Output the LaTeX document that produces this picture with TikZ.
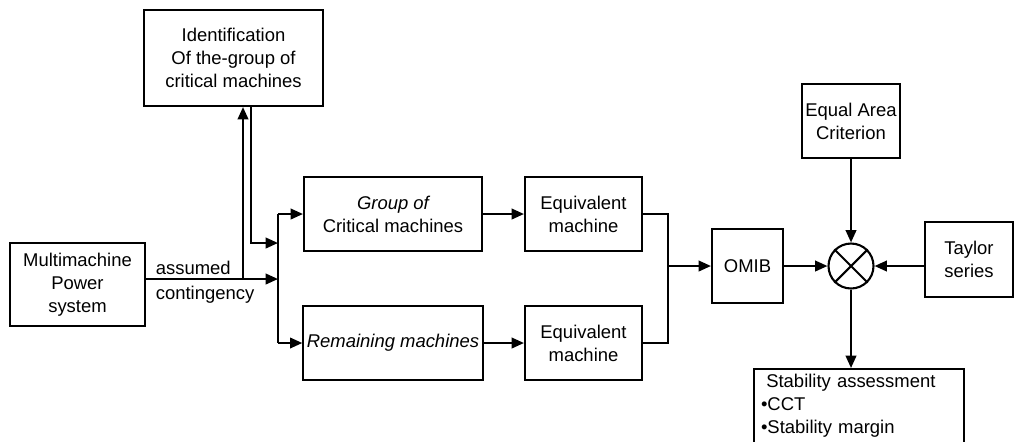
\documentclass[tikz,border=0pt]{standalone}
\usepackage{fontspec}
\setmainfont{Liberation Sans}
\usetikzlibrary{arrows.meta}
\begin{document}
\begin{tikzpicture}[x=0.02cm,y=-0.02cm,line width=1.2pt,
    box/.style={draw,align=center,inner sep=2pt,font=\fontsize{10.5}{13}\selectfont},
    lbl/.style={inner sep=1pt,font=\fontsize{10.5}{13}\selectfont},
    arr/.style={-{Triangle[length=7pt,width=6pt]}}]
    \useasboundingbox (0,0) rectangle (1016,441);
    \node[box,minimum width=2.7cm,minimum height=1.66cm] (sys) at (77.5,284.5) {Multimachine\\Power\\system};
    \node[box,minimum width=3.58cm,minimum height=1.92cm] (ident) at (233.5,58) {Identification\\Of the-group of\\critical machines};
    \node[box,minimum width=3.56cm,minimum height=1.48cm] (grp) at (393,214) {\itshape Group of\\Critical machines};
    \node[box,minimum width=3.56cm,minimum height=1.48cm] (rem) at (393,343) {\itshape Remaining machines};
    \node[box,minimum width=2.34cm,minimum height=1.48cm] (eqa) at (583.5,214) {Equivalent\\machine};
    \node[box,minimum width=2.34cm,minimum height=1.48cm] (eqb) at (583.5,343) {Equivalent\\machine};
    \node[box,minimum width=1.42cm,minimum height=1.48cm] (omib) at (747.5,266) {OMIB};
    \node[draw,circle,minimum size=0.9cm,inner sep=0pt] (mult) at (851,266) {};
    \draw (mult.45) -- (mult.225) (mult.135) -- (mult.315);
    \node[box,minimum width=1.92cm,minimum height=1.48cm] (eac) at (851,121) {Equal Area\\Criterion};
    \node[box,minimum width=1.76cm,minimum height=1.5cm] (taylor) at (969,259.5) {Taylor\\series};
    \node[box,anchor=north,align=left,text width=3.92cm,inner xsep=4pt,inner ysep=3pt,text depth=1.2cm] (stab) at (859,368)
        {\hspace{3pt}Stability assessment\\•CCT\\•Stability margin};
    \node[lbl,anchor=south west] (asm) at (153,277) {assumed};
    \node[lbl,anchor=north west] (cont) at (153,283) {contingency};
    \coordinate (in1) at (278,279);
    \coordinate (split) at (243,279);
    \coordinate (fb) at (251,243);
    \coordinate (bustop) at (278,214);
    \coordinate (busbot) at (278,343);
    \coordinate (join) at (668,266);
    \draw[arr] (sys.east |- in1) -- (in1);
    \draw[arr] (split) -- (split |- ident.south);
    \draw[arr] (fb |- ident.south) -- (fb) -- (in1 |- fb);
    \draw (bustop) -- (busbot);
    \draw[arr] (bustop) -- (grp.west);
    \draw[arr] (busbot) -- (rem.west);
    \draw[arr] (grp) -- (eqa);
    \draw[arr] (rem) -- (eqb);
    \draw (eqa.east) -| (join) |- (eqb.east);
    \draw[arr] (join) -- (omib.west);
    \draw[arr] (omib) -- (mult);
    \draw[arr] (eac) -- (mult);
    \draw[arr] (taylor.west |- mult) -- (mult.east);
    \draw[arr] (mult.south) -- (mult.south |- stab.north);
\end{tikzpicture}
\end{document}
